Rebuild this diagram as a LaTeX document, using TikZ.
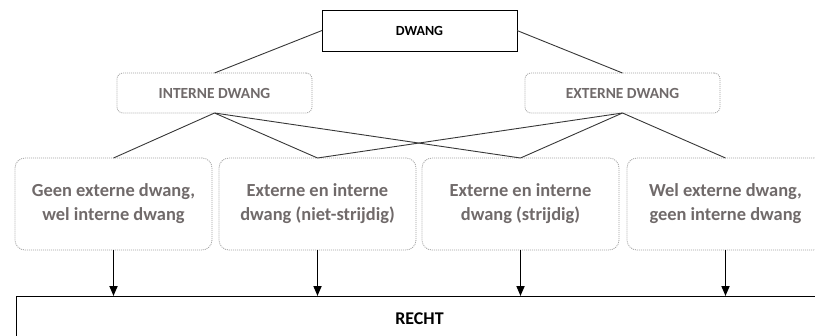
\documentclass[tikz,border=0pt]{standalone}
\usepackage{fontspec}
\setmainfont{Carlito}
\usetikzlibrary{arrows.meta}
\definecolor{boxtext}{RGB}{112,106,106}
\definecolor{dotline}{RGB}{160,160,160}
\definecolor{conn}{RGB}{55,55,55}
\tikzset{
  solidbox/.style={draw=black, line width=0.8bp, fill=white, outer sep=0pt, inner sep=0pt,
    font=\bfseries\fontsize{14}{16}\selectfont, text=black},
  topbox/.style={draw=dotline, dash pattern=on 1bp off 1bp, line width=0.8bp, rounded corners=6bp,
    minimum width=195bp, minimum height=40bp, outer sep=0pt, inner sep=0pt,
    font=\bfseries\fontsize{15.5}{18}\selectfont, text=boxtext},
  lowbox/.style={draw=dotline, dash pattern=on 1bp off 1bp, line width=0.8bp, rounded corners=10bp,
    minimum width=197bp, minimum height=92bp, outer sep=0pt, inner sep=0pt, align=center,
    font=\bfseries\fontsize{18.5}{24}\selectfont, text=boxtext},
  conline/.style={draw=conn, line width=0.9bp},
  downarrow/.style={draw=black, line width=1.7bp, -{Triangle[length=10bp,width=8bp]}}
}
\begin{document}
\begin{tikzpicture}[x=1bp,y=-1bp]
\useasboundingbox (0,0) rectangle (815,335);
\clip (0,0) rectangle (815,335);
\node[solidbox, minimum width=195bp, minimum height=41bp] (dwang) at (419.5,30.5) {DWANG};
\node[topbox] (int) at (214.5,93) {INTERNE DWANG};
\node[topbox] (ext) at (622.5,93) {EXTERNE DWANG};
\node[lowbox] (b1) at (113.5,204) {Geen externe dwang,\\wel interne dwang};
\node[lowbox] (b2) at (317.5,204) {Externe en interne\\dwang (niet-strijdig)};
\node[lowbox] (b3) at (520.5,204) {Externe en interne\\dwang (strijdig)};
\node[lowbox] (b4) at (725.5,204) {Wel externe dwang,\\geen interne dwang};
\node[solidbox, minimum width=807bp, minimum height=45bp, font=\bfseries\fontsize{18}{20}\selectfont] (recht) at (419.5,318.5) {RECHT};
\draw[conline] (dwang.west) -- (int.north);
\draw[conline] (dwang.east) -- (ext.north);
\draw[conline] (int.south) -- (b1.north);
\draw[conline] (int.south) -- (b2.north);
\draw[conline] (int.south) -- (b3.north);
\draw[conline] (ext.south) -- (b2.north);
\draw[conline] (ext.south) -- (b3.north);
\draw[conline] (ext.south) -- (b4.north);
\foreach \b in {b1,b2,b3,b4}
  \draw[downarrow] (\b.south) -- (\b.south |- recht.north);
\end{tikzpicture}
\end{document}
